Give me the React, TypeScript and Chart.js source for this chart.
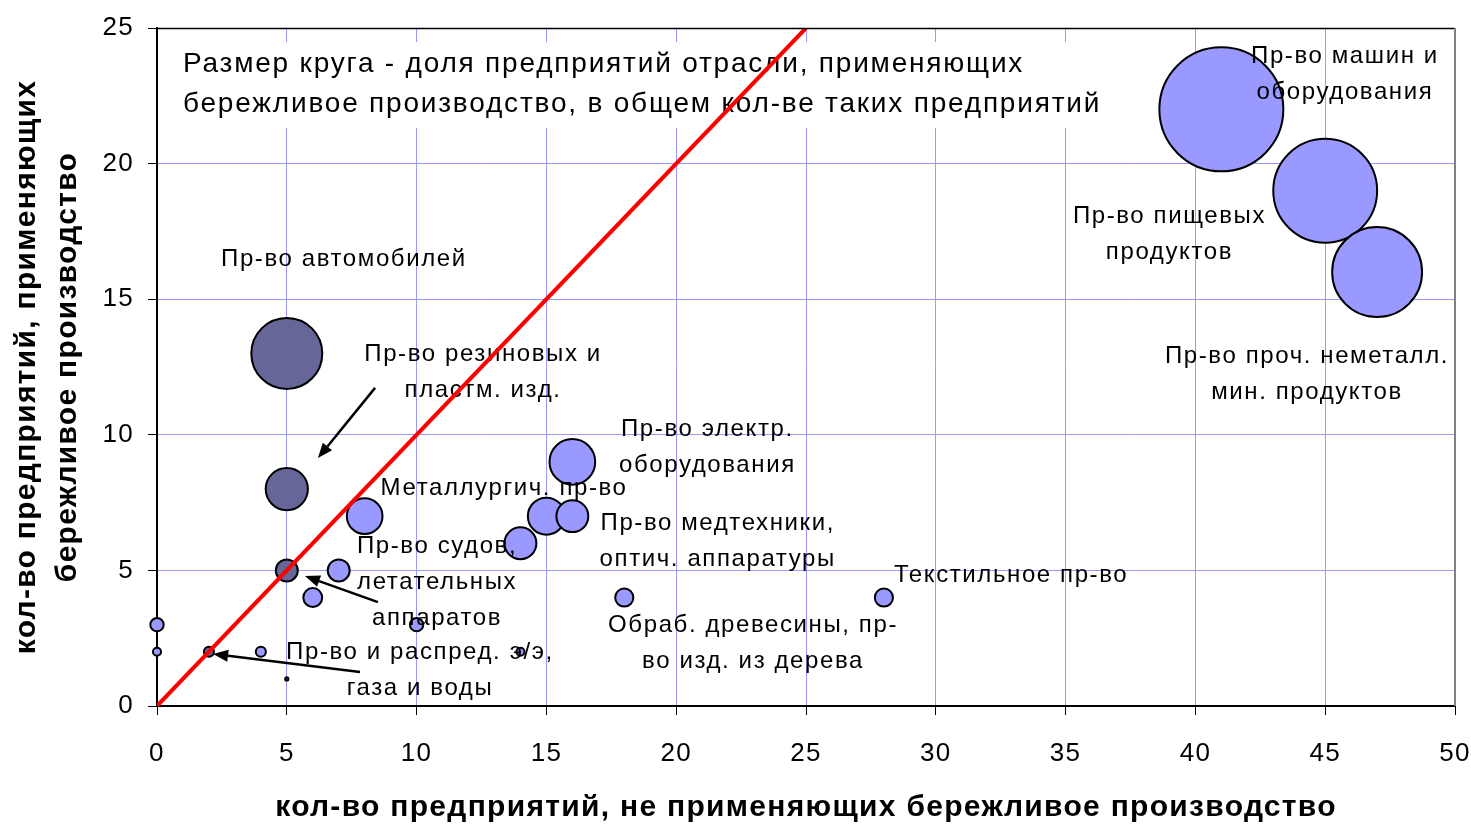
import React, { useEffect, useRef } from "react";
import { Chart, registerables } from "chart.js";
Chart.register(...registerables);

// ---- Data ----
const X_TICKS = [0, 5, 10, 15, 20, 25, 30, 35, 40, 45, 50];
const Y_TICKS = [0, 5, 10, 15, 20, 25];

// light bubbles (x: companies NOT using lean, y: companies using lean, share %)
const LIGHT_X = [41, 45, 47, 8, 16, 15, 16, 14, 7, 6, 0, 0, 4, 10, 14, 18, 28];
const LIGHT_Y = [22, 19, 16, 7, 9, 7, 7, 6, 5, 4, 3, 2, 2, 3, 2, 4, 4];
const LIGHT_SHARE = [30.2, 21.2, 15.9, 2.5, 4.1, 2.7, 2.0, 2.0, 0.95, 0.7, 0.35, 0.13, 0.2, 0.35, 0.13, 0.65, 0.65];

// dark bubbles
const DARK_X = [5, 5, 5, 2, 5];
const DARK_Y = [13, 8, 5, 2, 1];
const DARK_SHARE = [9.9, 3.5, 0.95, 0.2, 0.02];

// diagonal y = x
const DIAG_X = [0, 25];
const DIAG_Y = [0, 25];

// annotation labels (data coords of block centre)
const LABEL_LINES = [
  ["Пр-во машин и", "оборудования"],
  ["Пр-во пищевых", "продуктов"],
  ["Пр-во проч. неметалл.", "мин. продуктов"],
  ["Пр-во автомобилей"],
  ["Пр-во резиновых и", "пластм. изд."],
  ["Пр-во электр.", "оборудования"],
  ["Металлургич. пр-во"],
  ["Пр-во медтехники,", "оптич. аппаратуры"],
  ["Пр-во судов,", "летательных", "аппаратов"],
  ["Текстильное пр-во"],
  ["Обраб. древесины, пр-", "во изд. из дерева"],
  ["Пр-во и распред. э/э,", "газа и воды"],
];
const LABEL_X = [45.76, 39.0, 44.3, 7.2, 12.56, 21.2, 13.37, 21.6, 10.79, 32.9, 22.96, 10.13];
const LABEL_Y = [23.29, 17.39, 12.24, 16.48, 12.32, 9.53, 8.04, 6.07, 4.57, 4.83, 2.32, 1.31];

// arrows (from -> to, data coords)
const ARROW_FROM_X = [8.4, 8.51, 7.82];
const ARROW_FROM_Y = [11.73, 3.83, 1.25];
const ARROW_TO_X = [6.2, 5.7, 2.16];
const ARROW_TO_Y = [9.14, 4.79, 1.92];

const NOTE_LINES = [
  "Размер круга - доля предприятий отрасли, применяющих",
  "бережливое производство, в общем кол-ве таких предприятий",
];
const NOTE_X = 1.0;
const NOTE_Y = [23.67, 22.2];

const X_TITLE = "кол-во предприятий, не применяющих бережливое производство";
const Y_TITLE = ["кол-во предприятий, применяющих", "бережливое производство"];

const FONT = "'Liberation Sans', Arial, sans-serif";
const LIGHT_COLOR = "#9999ff";
const DARK_COLOR = "#666699";
const R_SCALE = 11.28; // px per sqrt(share)

const radius = (s: number) => Math.max(1.5, Math.sqrt(s) * R_SCALE);

const setSpacing = (chart: any) => {
  (chart.ctx as any).letterSpacing = "1.3px";
};

const overlay = {
  id: "overlay",
  beforeLayout(chart: any) { setSpacing(chart); },
  beforeDraw(chart: any) { setSpacing(chart); },
  beforeDatasetsDraw(chart: any) {
    const { ctx, scales } = chart;
    const xs = scales.x, ys = scales.y;
    ctx.save();
    ctx.font = `28px ${FONT}`;
    (ctx as any).letterSpacing = "1.8px";
    const left = xs.getPixelForValue(NOTE_X);
    let w = 0;
    NOTE_LINES.forEach((l) => (w = Math.max(w, ctx.measureText(l).width)));
    const top = ys.getPixelForValue(NOTE_Y[0]) - 22;
    const bottom = ys.getPixelForValue(NOTE_Y[NOTE_LINES.length - 1]) + 24;
    ctx.fillStyle = "#fff";
    ctx.fillRect(left - 12, top, w + 24, bottom - top);
    ctx.fillStyle = "#000";
    ctx.textAlign = "left";
    ctx.textBaseline = "middle";
    NOTE_LINES.forEach((l, i) => ctx.fillText(l, left, ys.getPixelForValue(NOTE_Y[i])));
    ctx.restore();
  },
  afterDatasetDraw(chart: any, args: any) {
    if (args.index !== 1) return;
    const { ctx, scales } = chart;
    const xs = scales.x, ys = scales.y;
    ctx.save();
    ctx.font = `24px ${FONT}`;
    (ctx as any).letterSpacing = "1.6px";
    ctx.fillStyle = "#000";
    ctx.textAlign = "center";
    ctx.textBaseline = "middle";
    const lh = 36;
    LABEL_LINES.forEach((lines, i) => {
      const cx = xs.getPixelForValue(LABEL_X[i]);
      const cy = ys.getPixelForValue(LABEL_Y[i]);
      const y0 = cy - ((lines.length - 1) * lh) / 2;
      lines.forEach((l, j) => ctx.fillText(l, cx, y0 + j * lh));
    });
    ctx.strokeStyle = "#000";
    ctx.lineWidth = 2.5;
    ARROW_FROM_X.forEach((_, i) => {
      const x1 = xs.getPixelForValue(ARROW_FROM_X[i]);
      const y1 = ys.getPixelForValue(ARROW_FROM_Y[i]);
      const x2 = xs.getPixelForValue(ARROW_TO_X[i]);
      const y2 = ys.getPixelForValue(ARROW_TO_Y[i]);
      const a = Math.atan2(y2 - y1, x2 - x1);
      const hl = 15, hw = 6;
      const bx = x2 - hl * Math.cos(a), by = y2 - hl * Math.sin(a);
      ctx.beginPath();
      ctx.moveTo(x1, y1);
      ctx.lineTo(bx, by);
      ctx.stroke();
      ctx.beginPath();
      ctx.moveTo(x2, y2);
      ctx.lineTo(bx + hw * Math.sin(a), by - hw * Math.cos(a));
      ctx.lineTo(bx - hw * Math.sin(a), by + hw * Math.cos(a));
      ctx.closePath();
      ctx.fill();
    });
    ctx.restore();
  },
  afterDraw(chart: any) {
    const { ctx, chartArea } = chart;
    ctx.save();
    ctx.strokeStyle = "#000";
    ctx.lineWidth = 1.5;
    ctx.beginPath();
    ctx.moveTo(chartArea.left, chartArea.top + 0.5);
    ctx.lineTo(chartArea.right, chartArea.top + 0.5);
    ctx.stroke();
    ctx.strokeStyle = "#808080";
    ctx.lineWidth = 2;
    ctx.beginPath();
    ctx.moveTo(chartArea.right, chartArea.top);
    ctx.lineTo(chartArea.right, chartArea.bottom);
    ctx.stroke();
    ctx.restore();
  },
};

export default function App() {
  const ref = useRef<HTMLCanvasElement | null>(null);
  useEffect(() => {
    document.body.style.margin = "0";
    const canvas = ref.current!;
    const chart = new Chart(canvas, {
      type: "bubble",
      data: {
        datasets: [
          {
            type: "line",
            data: DIAG_X.map((x, i) => ({ x, y: DIAG_Y[i] })),
            borderColor: "#ff0000",
            borderWidth: 4,
            pointRadius: 0,
            fill: false,
            order: 0,
          } as any,
          {
            data: LIGHT_X.map((x, i) => ({ x, y: LIGHT_Y[i], r: radius(LIGHT_SHARE[i]) })),
            backgroundColor: LIGHT_COLOR,
            borderColor: "#000",
            borderWidth: 2,
            order: 1,
            clip: false,
          } as any,
          {
            data: DARK_X.map((x, i) => ({ x, y: DARK_Y[i], r: radius(DARK_SHARE[i]) })),
            backgroundColor: DARK_COLOR,
            borderColor: "#000",
            borderWidth: 2,
            order: 2,
            clip: false,
          } as any,
        ],
      },
      options: {
        responsive: false,
        animation: false,
        layout: { autoPadding: false, padding: { left: 0, top: 28, right: 16, bottom: 0 } },
        plugins: { legend: { display: false }, tooltip: { enabled: false } },
        scales: {
          x: {
            type: "linear",
            min: X_TICKS[0],
            max: X_TICKS[X_TICKS.length - 1],
            afterBuildTicks: (s: any) => { s.ticks = X_TICKS.map((v) => ({ value: v })); },
            ticks: { font: { family: FONT, size: 26 }, color: "#000", padding: 23, maxRotation: 0 },
            grid: { color: "#9999ff", lineWidth: 1, tickColor: "#000", tickLength: 9 },
            border: { color: "#000", width: 2 },
            title: {
              display: true,
              text: X_TITLE,
              color: "#000",
              font: { family: FONT, size: 30, weight: "bold", lineHeight: 1 },
              padding: { top: 0, bottom: 1 },
            },
            afterFit: (s: any) => {
              s.height = 118;
              s.paddingRight = 0;
              s.paddingLeft = 0;
            },
          },
          y: {
            type: "linear",
            min: Y_TICKS[0],
            max: Y_TICKS[Y_TICKS.length - 1],
            afterBuildTicks: (s: any) => { s.ticks = Y_TICKS.map((v) => ({ value: v })); },
            ticks: { font: { family: FONT, size: 26 }, color: "#000", padding: 14 },
            grid: { color: "#9999ff", lineWidth: 1, tickColor: "#000", tickLength: 9 },
            border: { color: "#000", width: 2 },
            title: {
              display: true,
              text: Y_TITLE,
              color: "#000",
              font: { family: FONT, size: 30, weight: "bold", lineHeight: 1.37 },
              padding: { top: 6, bottom: 0 },
            },
            afterFit: (s: any) => {
              s.width = 157;
              s.paddingTop = 0;
              s.paddingBottom = 0;
            },
          },
        },
      },
      plugins: [overlay],
    });
    return () => chart.destroy();
  }, []);
  return (
    <div style={{ position: "absolute", left: 0, top: 0, width: 1471, height: 824 }}>
      <canvas ref={ref} width={1471} height={824} />
    </div>
  );
}
